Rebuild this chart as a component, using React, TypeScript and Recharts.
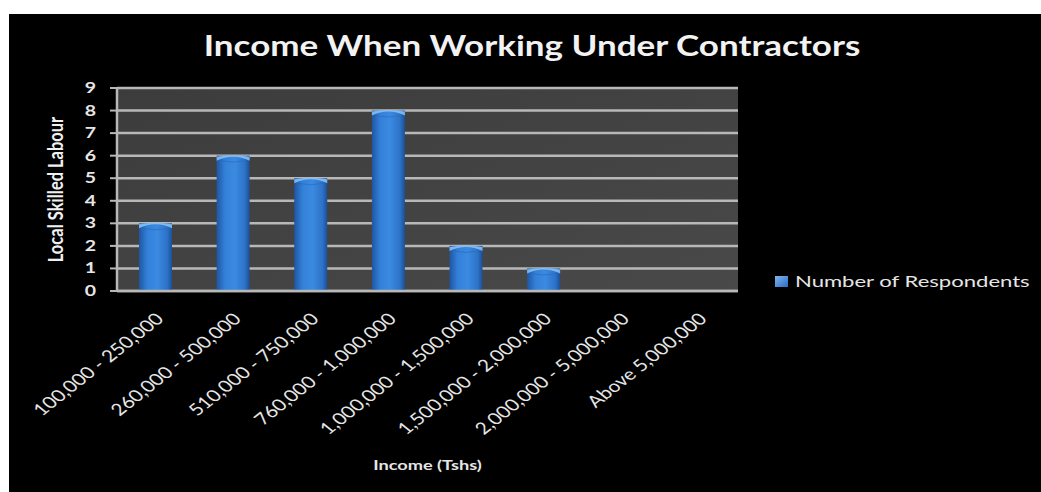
import React from "react";
import { BarChart, Bar, XAxis, YAxis, CartesianGrid, Legend } from "recharts";

const categories = [
  "100,000 - 250,000",
  "260,000 - 500,000",
  "510,000 - 750,000",
  "760,000 - 1,000,000",
  "1,000,000 - 1,500,000",
  "1,500,000 - 2,000,000",
  "2,000,000 - 5,000,000",
  "Above 5,000,000",
];
const respondents = [3, 6, 5, 8, 2, 1, 0, 0];
const yTicks = [0, 1, 2, 3, 4, 5, 6, 7, 8, 9];
const seriesName = "Number of Respondents";
const titleText = "Income When Working Under Contractors";
const xTitle = "Income (Tshs)";
const yTitle = "Local Skilled Labour";

const data = categories.map((c, i) => ({ name: c, value: respondents[i] }));

const SX = 1.3;
const FONT = "Lato, 'Open Sans', sans-serif";
const W = 1032;
const H = 478;

const XTick = (props: any) => {
  const { x, y, payload } = props;
  return (
    <g transform={`translate(${x + 9},${y + 29}) scale(1.27,1) rotate(-45)`}>
      <text x={0} y={0} textAnchor="end" fill="#e6e6e6" fontSize={16.5} fontFamily={FONT}>
        {payload.value}
      </text>
    </g>
  );
};

const YTick = (props: any) => {
  const { x, y, payload } = props;
  return (
    <g transform={`translate(${x},${y}) scale(${SX},1)`}>
      <text x={0} y={0} dy={5} textAnchor="end" fill="#e6e6e6" fontSize={15} fontWeight={700} fontFamily={FONT}>
        {payload.value}
      </text>
    </g>
  );
};

const BarShape = (props: any) => {
  const { x, y, width, height } = props;
  if (!height || height <= 0) return null;
  const cap = 5;
  return (
    <g>
      <rect x={x} y={y} width={width} height={height} fill="url(#barGrad)" />
      <path
        d={`M${x},${y + cap} Q${x + width / 2},${y - cap * 0.6} ${x + width},${y + cap} L${x + width},${y + 1} Q${x + width / 2},${y - 2} ${x},${y + 1} Z`}
        fill="#8cc4f5"
        opacity={0.85}
      />
      <path
        d={`M${x + 2},${y + cap} Q${x + width / 2},${y + cap + 3} ${x + width - 2},${y + cap}`}
        stroke="#2a66b8"
        strokeWidth={1}
        fill="none"
        opacity={0.6}
      />
    </g>
  );
};

const LegendContent = () => (
  <div style={{ display: "flex", alignItems: "center", whiteSpace: "nowrap" }}>
    <svg width={270} height={22}>
      <rect x={0} y={5} width={13} height={11} fill="url(#legGrad)" />
      <text
        transform={`translate(20,16) scale(1.38,1)`}
        fill="#e6e6e6"
        fontSize={16}
        fontFamily={FONT}
      >
        {seriesName}
      </text>
    </svg>
  </div>
);

export default function App() {
  return (
    <div style={{ position: "absolute", left: 0, top: 0, width: 1041, height: 492, background: "#ffffff" }}>
      <div style={{ position: "absolute", left: 9, top: 14, width: W, height: H, background: "#000000" }}>
        <BarChart
          width={W}
          height={H}
          data={data}
          margin={{ top: 74, right: 303, bottom: 51, left: 48 }}
          barSize={33}
        >
          <defs>
            <linearGradient id="barGrad" x1="0" y1="0" x2="1" y2="0">
              <stop offset="0%" stopColor="#1f56a3" />
              <stop offset="25%" stopColor="#3380d8" />
              <stop offset="55%" stopColor="#3b8ae2" />
              <stop offset="85%" stopColor="#2d73c8" />
              <stop offset="100%" stopColor="#1d4f96" />
            </linearGradient>
            <linearGradient id="legGrad" x1="0" y1="0" x2="1" y2="1">
              <stop offset="0%" stopColor="#7fb6ee" />
              <stop offset="100%" stopColor="#2a6cc4" />
            </linearGradient>
            <linearGradient id="plotGrad" x1="0" y1="0" x2="1" y2="1">
              <stop offset="0%" stopColor="#3c3c3c" />
              <stop offset="100%" stopColor="#494949" />
            </linearGradient>
          </defs>
          <text
            transform={`translate(523,42) scale(1.25,1)`}
            textAnchor="middle"
            fill="#f2f2f2"
            fontSize={28}
            fontWeight={700}
            fontFamily={FONT}
          >
            {titleText}
          </text>
          <CartesianGrid
            vertical={false}
            stroke="#b8b8b8"
            strokeWidth={2.5}
            fill="url(#plotGrad)"
            fillOpacity={1}
          />
          <XAxis
            dataKey="name"
            interval={0}
            height={150}
            tickLine={false}
            tickSize={0}
            tickMargin={0}
            axisLine={{ stroke: "#b8b8b8", strokeWidth: 2.5 }}
            tick={<XTick />}
            label={(p: any) => {
              const vb = p.viewBox;
              const cx = vb.x + vb.width / 2;
              return (
                <text
                  transform={`translate(${cx},${vb.y + 179}) scale(${SX},1)`}
                  textAnchor="middle"
                  fill="#e6e6e6"
                  fontSize={14}
                  fontWeight={700}
                  fontFamily={FONT}
                >
                  {xTitle}
                </text>
              );
            }}
          />
          <YAxis
            domain={[0, 9]}
            ticks={yTicks}
            interval={0}
            width={60}
            tickSize={7}
            tickMargin={14}
            tickLine={{ stroke: "#b8b8b8", strokeWidth: 2 }}
            axisLine={{ stroke: "#b8b8b8", strokeWidth: 2.5 }}
            tick={<YTick />}
            label={(p: any) => {
              const vb = p.viewBox;
              const cy = vb.y + vb.height / 2;
              return (
                <text
                  transform={`translate(${vb.x + 6},${cy}) scale(${SX},1) rotate(-90)`}
                  textAnchor="middle"
                  fill="#f0f0f0"
                  fontSize={16.5}
                  fontWeight={700}
                  fontFamily={FONT}
                >
                  {yTitle}
                </text>
              );
            }}
          />
          <Legend
            layout="vertical"
            align="center"
            verticalAlign="middle"
            content={<LegendContent />}
            wrapperStyle={{ position: "absolute", left: 766, top: 257, width: 270 }}
          />
          <Bar dataKey="value" name={seriesName} shape={<BarShape />} isAnimationActive={false} />
        </BarChart>
      </div>
    </div>
  );
}
